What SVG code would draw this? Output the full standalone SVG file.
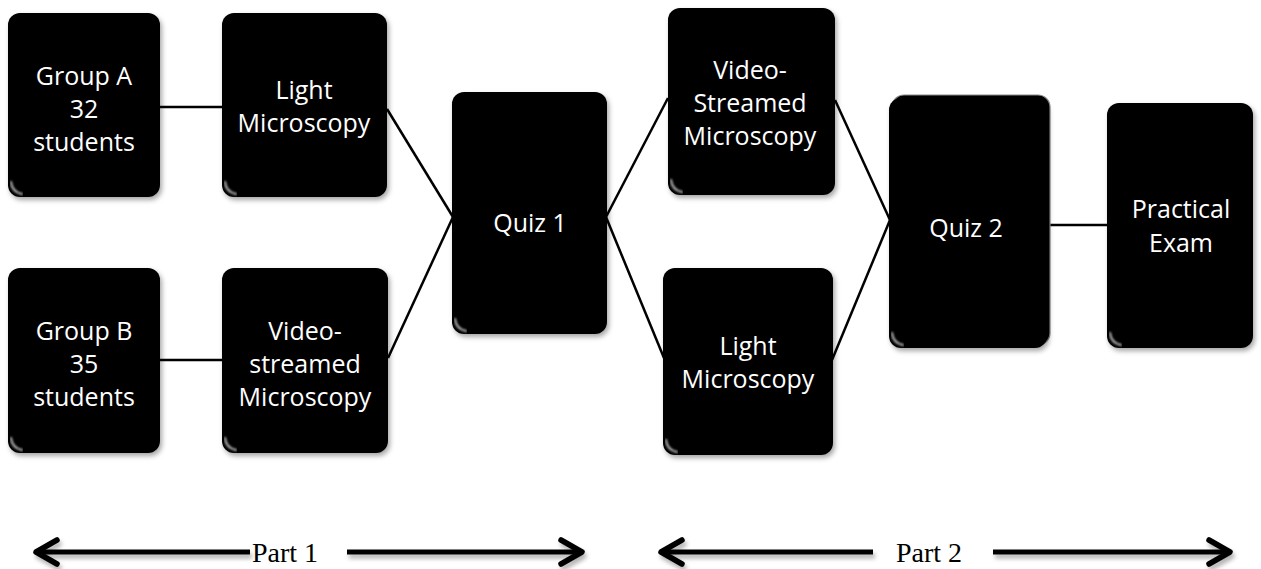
<svg xmlns="http://www.w3.org/2000/svg" width="1261" height="569" viewBox="0 0 1261 569">
  <defs>
    <filter id="boxShadow" x="-10%" y="-10%" width="125%" height="125%">
      <feGaussianBlur in="SourceAlpha" stdDeviation="2.5"/>
      <feOffset dx="2" dy="3" result="blur"/>
      <feFlood flood-color="#000" flood-opacity="0.35"/>
      <feComposite in2="blur" operator="in"/>
      <feMerge><feMergeNode/><feMergeNode in="SourceGraphic"/></feMerge>
    </filter>
    <filter id="soft" x="-5%" y="-50%" width="110%" height="200%">
      <feGaussianBlur stdDeviation="0.8"/>
    </filter>
    <!-- user-space region: the span lines are flat, so a bbox region would be empty -->
    <filter id="arrowShadow" filterUnits="userSpaceOnUse" x="0" y="520" width="1261" height="49">
      <feGaussianBlur in="SourceAlpha" stdDeviation="2"/>
      <feOffset dx="2" dy="4" result="blur"/>
      <feFlood flood-color="#000" flood-opacity="0.3"/>
      <feComposite in2="blur" operator="in"/>
      <feMerge><feMergeNode/><feMergeNode in="SourceGraphic"/></feMerge>
    </filter>
    <marker id="chevron" markerUnits="userSpaceOnUse" viewBox="-26 -16 30 32" refX="0" refY="0" markerWidth="30" markerHeight="32" orient="auto-start-reverse" overflow="visible">
      <path d="M -21 -12 L 0 0 L -21 12" fill="none" stroke="#000" stroke-width="5.5" stroke-linecap="round" stroke-linejoin="round"/>
    </marker>
  </defs>
  <style>
    .box { fill: #000; filter: url(#boxShadow); }
    .back { fill: #000; stroke: #8a8a8a; stroke-width: 1.2; }
    .gloss { fill: none; stroke: #707070; stroke-width: 2.5; stroke-linecap: round; filter: url(#soft); }
    .sheen { fill: none; stroke: #c8c8c8; stroke-width: 2; stroke-linecap: round; filter: url(#soft); }
    .label { fill: #fff; font-family: "Open Sans", "Noto Sans", "Liberation Sans", sans-serif; font-size: 25px; text-anchor: middle; }
    .conn { fill: none; stroke: #000; stroke-width: 2.5; }
    .span { fill: none; stroke: #000; stroke-width: 5; marker-end: url(#chevron); }
    .part { fill: #000; font-family: "Liberation Serif", "Times New Roman", serif; font-size: 28px; }
  </style>

  <!-- connectors -->
  <g id="connectors">
    <line class="conn" x1="160" y1="107" x2="222" y2="107"/>
    <line class="conn" x1="160" y1="360" x2="222" y2="360"/>
    <line class="conn" x1="387" y1="109" x2="453" y2="217"/>
    <line class="conn" x1="388" y1="358" x2="453" y2="217"/>
    <line class="conn" x1="606" y1="217" x2="668" y2="98"/>
    <line class="conn" x1="606" y1="217" x2="664" y2="358"/>
    <line class="conn" x1="835" y1="100" x2="890" y2="220"/>
    <line class="conn" x1="832" y1="360" x2="890" y2="220"/>
    <line class="conn" x1="1047" y1="225" x2="1107" y2="225"/>
  </g>

  <!-- Group A -->
  <g id="groupA">
    <rect class="box" x="8" y="13" width="152" height="184" rx="12"/>
    <path class="gloss" d="M 18 18 H 150"/>
    <path class="sheen" d="M 11 182 Q 12 192 22 194"/>
    <text class="label" x="84" y="85">Group A</text>
    <text class="label" x="84" y="118">32</text>
    <text class="label" x="84" y="151">students</text>
  </g>

  <!-- Light Microscopy (part 1) -->
  <g id="lightMicroscopy1">
    <rect class="box" x="222" y="13" width="165" height="184" rx="12"/>
    <path class="gloss" d="M 232 18 H 377"/>
    <path class="sheen" d="M 225 182 Q 226 192 236 194"/>
    <text class="label" x="304" y="99">Light</text>
    <text class="label" x="304" y="132">Microscopy</text>
  </g>

  <!-- Group B -->
  <g id="groupB">
    <rect class="box" x="8" y="268" width="152" height="185" rx="12"/>
    <path class="gloss" d="M 18 273 H 150"/>
    <path class="sheen" d="M 11 438 Q 12 448 22 450"/>
    <text class="label" x="84" y="340">Group B</text>
    <text class="label" x="84" y="373">35</text>
    <text class="label" x="84" y="406">students</text>
  </g>

  <!-- Video-streamed Microscopy (part 1) -->
  <g id="videoMicroscopy1">
    <rect class="box" x="222" y="268" width="166" height="185" rx="12"/>
    <path class="gloss" d="M 232 273 H 378"/>
    <path class="sheen" d="M 225 438 Q 226 448 236 450"/>
    <text class="label" x="305" y="340">Video-</text>
    <text class="label" x="305" y="373">streamed</text>
    <text class="label" x="305" y="406">Microscopy</text>
  </g>

  <!-- Quiz 1 -->
  <g id="quiz1">
    <rect class="box" x="452" y="92" width="155" height="242" rx="12"/>
    <path class="gloss" d="M 462 97 H 597"/>
    <path class="sheen" d="M 455 319 Q 456 329 466 331"/>
    <text class="label" x="530" y="232">Quiz 1</text>
  </g>

  <!-- Video-Streamed Microscopy (part 2) -->
  <g id="videoMicroscopy2">
    <rect class="box" x="668" y="8" width="167" height="187" rx="12"/>
    <path class="gloss" d="M 678 13 H 825"/>
    <path class="sheen" d="M 671 180 Q 672 190 682 192"/>
    <text class="label" x="750" y="79">Video-</text>
    <text class="label" x="750" y="112">Streamed</text>
    <text class="label" x="750" y="145">Microscopy</text>
  </g>

  <!-- Light Microscopy (part 2) -->
  <g id="lightMicroscopy2">
    <rect class="box" x="663" y="268" width="170" height="187" rx="12"/>
    <path class="gloss" d="M 673 273 H 823"/>
    <path class="sheen" d="M 666 440 Q 667 450 677 452"/>
    <text class="label" x="748" y="355">Light</text>
    <text class="label" x="748" y="388">Microscopy</text>
  </g>

  <!-- Quiz 2 (stacked card) -->
  <g id="quiz2">
    <rect class="back" x="892" y="95" width="158" height="250" rx="12"/>
    <rect class="box" x="889" y="98" width="158" height="250" rx="12"/>
    <path class="gloss" d="M 899 103 H 1037"/>
    <path class="sheen" d="M 892 333 Q 893 343 903 345"/>
    <text class="label" x="966" y="237">Quiz 2</text>
  </g>

  <!-- Practical Exam -->
  <g id="practicalExam">
    <rect class="box" x="1107" y="103" width="146" height="245" rx="12"/>
    <path class="gloss" d="M 1117 108 H 1243"/>
    <path class="sheen" d="M 1110 333 Q 1111 343 1121 345"/>
    <text class="label" x="1181" y="218">Practical</text>
    <text class="label" x="1181" y="252">Exam</text>
  </g>

  <!-- Part spans -->
  <g id="part1">
    <g filter="url(#arrowShadow)">
      <line class="span" x1="250" y1="552" x2="36" y2="552"/>
      <line class="span" x1="347" y1="552" x2="582" y2="552"/>
    </g>
    <text class="part" x="252" y="562">Part 1</text>
  </g>
  <g id="part2">
    <g filter="url(#arrowShadow)">
      <line class="span" x1="873" y1="552" x2="661" y2="552"/>
      <line class="span" x1="993" y1="552" x2="1230" y2="552"/>
    </g>
    <text class="part" x="896" y="562">Part 2</text>
  </g>
</svg>
